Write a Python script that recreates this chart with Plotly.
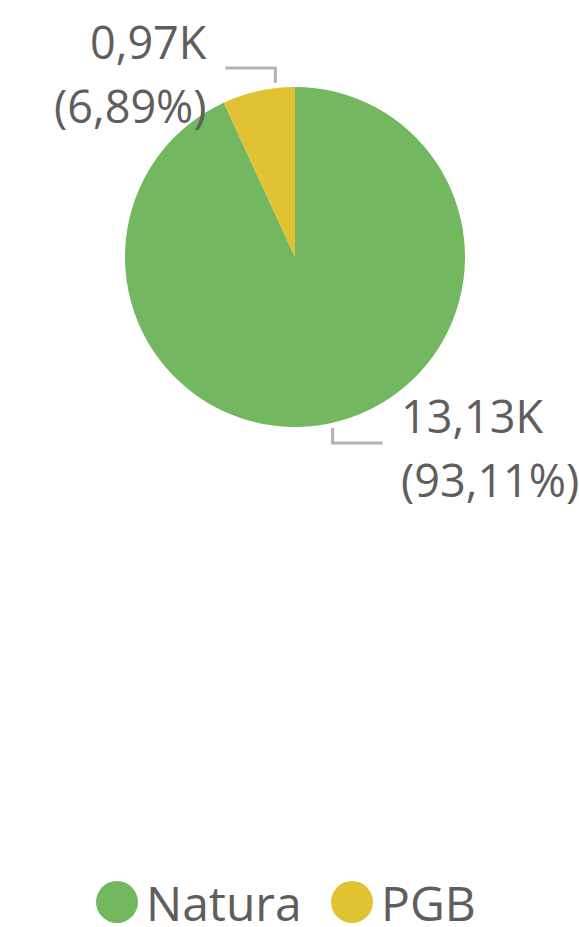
import math
import plotly.graph_objects as go

# ---- data ----
categories = ["Natura", "PGB"]
values = [13127, 971]
colors = ["#73B761", "#E1C233"]

# ---- layout constants ----
W, H = 579, 927
cx, cy, R = 295, 257, 170
anchor_frac = [0.5, 0.74]   # where along each slice the leader line starts
label_font = dict(family="Open Sans", size=45, color="#605E5C")
legend_font = dict(family="Open Sans", size=48, color="#605E5C")
legend_x = [96, 331]
legend_y = 902
legend_r = 21


def px(x):
    return x / W


def py(y):
    return 1 - y / H


def fmt_k(v):
    return f"{v / 1000:.2f}".replace(".", ",") + "K"


def fmt_pct(p):
    return f"({p:.2f}%)".replace(".", ",")


fig = go.Figure(
    go.Pie(
        labels=categories,
        values=values,
        sort=False,
        direction="clockwise",
        rotation=0,
        marker=dict(colors=colors, line=dict(width=0)),
        textinfo="none",
        hoverinfo="label+value+percent",
        showlegend=False,
        domain=dict(x=[px(cx - R), px(cx + R)], y=[py(cy + R), py(cy - R)]),
    )
)

total = sum(values)
shapes = []
annotations = []
cum = 0
for i, v in enumerate(values):
    start = cum / total * 360
    end = (cum + v) / total * 360
    cum += v
    a = math.radians(start + anchor_frac[i] * (end - start))
    ax = cx + (R + 5) * math.sin(a)
    ay = cy - (R + 5) * math.cos(a)
    sx = 1 if ax >= cx else -1
    sy = 1 if ay >= cy else -1
    ey = ay + sy * 15
    ex = ax + sx * 50
    shapes.append(
        dict(
            type="path",
            xref="paper",
            yref="paper",
            path=f"M {px(ax)} {py(ay)} L {px(ax)} {py(ey)} L {px(ex)} {py(ey)}",
            line=dict(color="#B3B3B3", width=3),
        )
    )
    tx = ex + sx * 16
    tyc = ey + 5
    anchor = "left" if sx > 0 else "right"
    pct = v / total * 100
    for txt, dy in [(fmt_k(v), -32), (fmt_pct(pct), 32)]:
        annotations.append(
            dict(
                x=px(tx), y=py(tyc + dy), xref="paper", yref="paper",
                text=txt, showarrow=False, xanchor=anchor, yanchor="middle",
                align=anchor, font=label_font,
            )
        )

# custom legend with large circle markers
for i, name in enumerate(categories):
    x0 = legend_x[i]
    shapes.append(
        dict(
            type="circle", xref="paper", yref="paper",
            x0=px(x0), x1=px(x0 + 2 * legend_r),
            y0=py(legend_y + legend_r), y1=py(legend_y - legend_r),
            fillcolor=colors[i], line=dict(width=0),
        )
    )
    annotations.append(
        dict(
            x=px(x0 + 2 * legend_r + 6), y=py(legend_y), xref="paper", yref="paper",
            text=name, showarrow=False, xanchor="left", yanchor="middle",
            valign="middle", height=46, font=legend_font,
        )
    )

fig.update_layout(
    width=W,
    height=H,
    margin=dict(l=0, r=0, t=0, b=0),
    paper_bgcolor="white",
    plot_bgcolor="white",
    shapes=shapes,
    annotations=annotations,
    showlegend=False,
)

fig.write_html(
    "out.html",
    config={"displayModeBar": False},
    post_script="document.body.style.margin='0';document.body.style.overflow='hidden';",
)
